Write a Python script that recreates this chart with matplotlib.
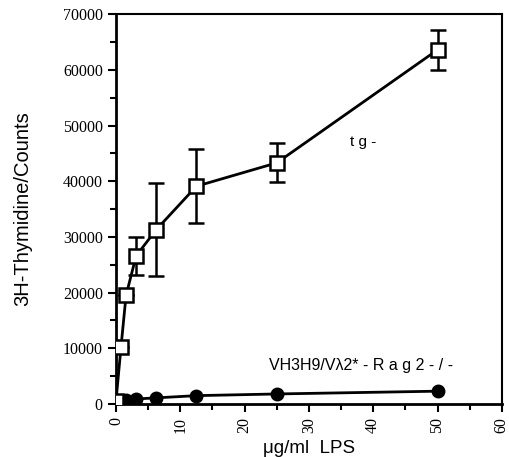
import matplotlib
matplotlib.use("Agg")
import matplotlib.pyplot as plt

plt.rcParams['font.family'] = ['Liberation Sans', 'DejaVu Sans']

# LPS doses (ug/ml)
lps = [0, 0.78, 1.56, 3.125, 6.25, 12.5, 25, 50]

# tg- (open squares)
tg_counts = [600, 10300, 19500, 26600, 31300, 39100, 43300, 63600]
tg_err_low = [0, 0, 0, 3400, 8400, 6600, 3500, 3600]
tg_err_high = [0, 0, 0, 3400, 8400, 6600, 3500, 3600]

# VH3H9/Vl2*-Rag2-/- (filled circles)
rag_counts = [500, 600, 700, 900, 1100, 1500, 1800, 2300]

fig = plt.figure(figsize=(5.1, 4.57), dpi=100)
ax = fig.add_axes([0.2275, 0.116, 0.7565, 0.853])

ax.plot(lps, rag_counts, color='black', lw=2, marker='o', ms=9,
        mfc='black', mec='black', zorder=3)
ax.errorbar(lps, tg_counts, yerr=[tg_err_low, tg_err_high], color='black',
            lw=2, marker='s', ms=10, mfc='white', mec='black', mew=1.8,
            capsize=6, capthick=1.8, elinewidth=1.8, zorder=4)

ax.text(38.4, 47000, "t g -", fontsize=11, ha='center', va='center')
ax.text(38.1, 7000, "VH3H9/V\u03bb2* - R a g 2 - / -", fontsize=11.5,
        ha='center', va='center')

ax.set_xlim(0, 60)
ax.set_ylim(0, 70000)
ax.set_xticks(range(0, 61, 10))
ax.set_xticks(range(0, 61, 5), minor=True)
ax.set_yticks(range(0, 70001, 10000))
ax.set_yticks(range(0, 70001, 5000), minor=True)
ax.tick_params(axis='x', which='both', labelrotation=90)
ax.tick_params(which='major', length=6, width=1.5, labelsize=11.5)
ax.tick_params(which='minor', length=4, width=1.5)
for lab in ax.get_xticklabels() + ax.get_yticklabels():
    lab.set_family(['Liberation Serif', 'DejaVu Serif'])

for s in ['left', 'bottom']:
    ax.spines[s].set_linewidth(2)
for s in ['top', 'right']:
    ax.spines[s].set_linewidth(1.5)

ax.set_ylabel("3H-Thymidine/Counts", fontsize=14.5, labelpad=22)
ax.set_xlabel("\u03bcg/ml  LPS", fontsize=13.5, labelpad=5)

fig.savefig("out.png", dpi=100)
